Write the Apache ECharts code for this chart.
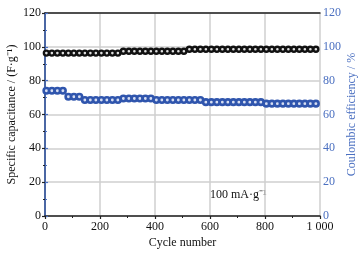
<!DOCTYPE html>
<html>
<head>
<meta charset="utf-8">
<script src="https://cdn.jsdelivr.net/npm/echarts@6/dist/echarts.min.js"></script>
<style>
  html, body { margin: 0; padding: 0; background: #fff; }
  #dom { width: 364px; height: 254px; }
</style>
</head>
<body>
<div id="dom"></div>
<script>
// 数据
var cycles = [5, 25, 45, 65, 85, 105, 125, 145, 165, 185, 205, 225, 245, 265, 285, 305, 325, 345, 365, 385,
  405, 425, 445, 465, 485, 505, 525, 545, 565, 585, 605, 625, 645, 665, 685, 705, 725, 745, 765, 785,
  805, 825, 845, 865, 885, 905, 925, 945, 965, 985];
var capacitance = [96.3, 96.3, 96.3, 96.3, 96.3, 96.3, 96.3, 96.3, 96.3, 96.3, 96.3, 96.3, 96.3, 96.3,
  97.4, 97.4, 97.4, 97.4, 97.4, 97.4, 97.4, 97.4, 97.4, 97.4, 97.4, 97.4,
  98.6, 98.6, 98.6, 98.6, 98.6, 98.6, 98.6, 98.6, 98.6, 98.6, 98.6, 98.6, 98.6, 98.6,
  98.6, 98.6, 98.6, 98.6, 98.6, 98.6, 98.6, 98.6, 98.6, 98.6];
var efficiency = [74, 74, 74, 74, 70.5, 70.5, 70.5, 68.6, 68.6, 68.6, 68.6, 68.6, 68.6, 68.6,
  69.5, 69.5, 69.5, 69.5, 69.5, 69.5, 68.6, 68.6, 68.6, 68.6, 68.6, 68.6, 68.6, 68.6, 68.6,
  67.3, 67.3, 67.3, 67.3, 67.3, 67.3, 67.3, 67.3, 67.3, 67.3, 67.3,
  66.4, 66.4, 66.4, 66.4, 66.4, 66.4, 66.4, 66.4, 66.4, 66.4];

function pairs(xs, ys) {
  var list = [];
  for (var i = 0; i < xs.length; i++) list.push([xs[i], ys[i]]);
  return list;
}

var font = '"Liberation Serif", "Times New Roman", serif';
var blue = '#4a6fc0';

var myChart = echarts.init(document.getElementById('dom'));
var option = {
  animation: false,
  textStyle: { fontFamily: font },
  grid: { left: 45, right: 44, top: 13, bottom: 38, outerBoundsMode: 'none', containLabel: false },
  xAxis: [{
    type: 'value',
    min: 0, max: 1000, interval: 200,
    name: 'Cycle number',
    nameLocation: 'middle',
    nameGap: 21,
    nameMoveOverlap: false,
    nameTextStyle: { fontFamily: font, fontSize: 12, color: '#111' },
    axisLine: { lineStyle: { color: '#222', width: 1.5 } },
    axisTick: { lineStyle: { color: '#222', width: 1.2 }, length: 3 },
    minorTick: { show: true, splitNumber: 2, length: 2, lineStyle: { color: '#222' } },
    axisLabel: {
      fontFamily: font, fontSize: 12, color: '#111', margin: 5,
      formatter: function (v) { return v === 1000 ? '1 000' : String(v); }
    },
    splitLine: { show: true, lineStyle: { color: '#cfcfcf', width: 1.5 } }
  }, {
    type: 'value', position: 'top',
    min: 0, max: 1000,
    axisLine: { show: true, onZero: false, lineStyle: { color: '#222', width: 1.5 } },
    axisTick: { show: false }, axisLabel: { show: false }, splitLine: { show: false }
  }],
  yAxis: [{
    type: 'value',
    min: 0, max: 120, interval: 20,
    name: 'Specific capacitance / (F·g⁻¹)',
    nameLocation: 'middle',
    nameGap: 27,
    nameMoveOverlap: false,
    nameTextStyle: { fontFamily: font, fontSize: 12, color: '#111' },
    axisLine: { show: true, lineStyle: { color: '#222', width: 1.5 } },
    axisTick: { lineStyle: { color: '#222', width: 1.2 }, length: 3 },
    minorTick: { show: true, splitNumber: 2, length: 2, lineStyle: { color: '#222' } },
    axisLabel: { fontFamily: font, fontSize: 12, color: '#111', margin: 4 },
    splitLine: { show: true, lineStyle: { color: '#cfcfcf', width: 1.5 } }
  }, {
    type: 'value', position: 'right',
    min: 0, max: 120, interval: 20,
    name: 'Coulombic efficiency / %',
    nameLocation: 'middle',
    nameRotate: 90,
    nameGap: 26,
    nameMoveOverlap: false,
    nameTextStyle: { fontFamily: font, fontSize: 12, color: blue },
    axisLine: { show: true, lineStyle: { color: blue, width: 1.5 } },
    axisTick: { lineStyle: { color: blue, width: 1.2 }, length: 3 },
    minorTick: { show: true, splitNumber: 2, length: 2, lineStyle: { color: blue } },
    axisLabel: { fontFamily: font, fontSize: 12, color: blue, margin: 3 },
    splitLine: { show: false }
  }],
  series: [{
    name: 'capacitance',
    type: 'scatter',
    xAxisIndex: 0, yAxisIndex: 0,
    symbol: 'circle', symbolSize: 5,
    itemStyle: { color: '#e0e0e0', borderColor: '#111', borderWidth: 2.4, opacity: 1 },
    data: pairs(cycles, capacitance)
  }, {
    name: 'efficiency',
    type: 'scatter',
    xAxisIndex: 0, yAxisIndex: 1,
    symbol: 'circle', symbolSize: 5.5,
    itemStyle: { color: '#d6def2', borderColor: '#2f55ad', borderWidth: 2.6, opacity: 1 },
    data: pairs(cycles, efficiency)
  }],
  graphic: [{
    type: 'text',
    left: 210, top: 189,
    style: { text: '100 mA·g⁻¹', font: '12px ' + font, fill: '#111' }
  }]
};
myChart.setOption(option);
</script>
</body>
</html>
